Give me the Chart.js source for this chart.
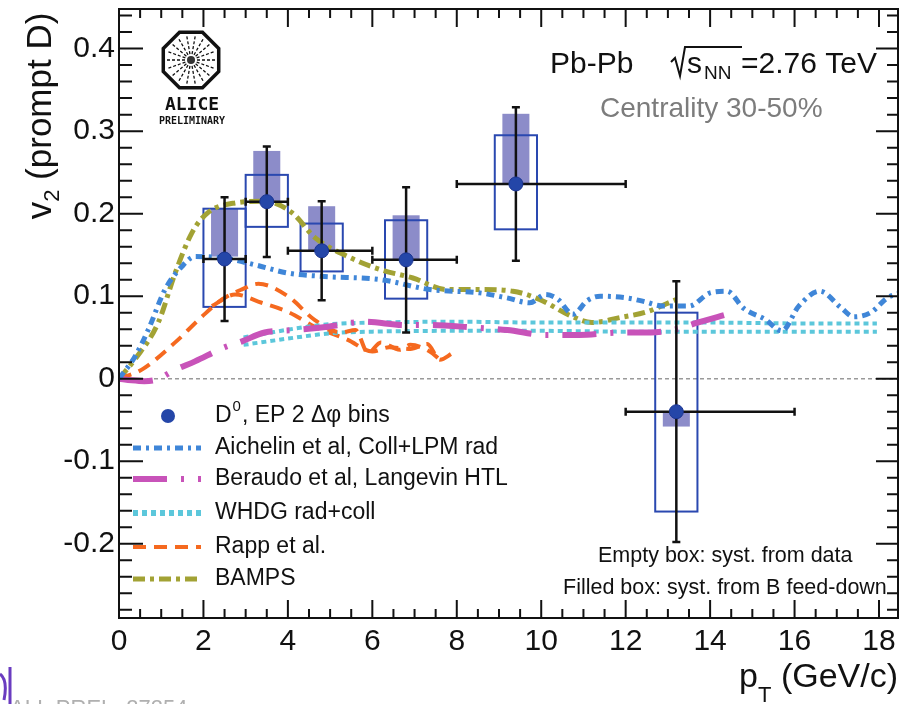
<!DOCTYPE html>
<html>
<head>
<meta charset="utf-8">
<script src="https://cdn.jsdelivr.net/npm/chart.js@4.4.1/dist/chart.umd.min.js"></script>
<style>
  html, body { margin: 0; padding: 0; background: #fff; }
  #wrap { width: 907px; height: 704px; }
</style>
</head>
<body>
<div id="wrap"><canvas id="v2Chart" width="907" height="704"></canvas></div>
<script>
// ---- 測定データ (D0, 30-50%) ----
const ptCenter = [2.5, 3.5, 4.8, 6.8, 9.4, 13.2];
const ptLow = [2, 3, 4, 6, 8, 12];
const ptHigh = [3, 4, 6, 8, 12, 16];
const v2Value = [0.145, 0.2145, 0.155, 0.144, 0.236, -0.040];
const v2StatErr = [0.075, 0.067, 0.060, 0.088, 0.093, 0.158];
const systDataLow = [0.087, 0.184, 0.130, 0.097, 0.181, -0.161];
const systDataHigh = [0.206, 0.247, 0.188, 0.192, 0.295, 0.080];
const feedDownLow = [0.148, 0.2145, 0.155, 0.144, 0.236, -0.058];
const feedDownHigh = [0.206, 0.276, 0.209, 0.198, 0.321, -0.040];

// ---- モデル曲線 ----
const aichX = [0, 0.38, 0.69, 1.09, 1.49, 1.8, 2.5, 3.22, 4.0, 4.8, 6.2, 7.36, 8.54, 9.18, 9.73, 10.1, 10.4, 10.75, 11.1, 11.4, 12.0, 12.4, 12.9, 13.5, 14.0, 14.4, 14.8, 15.3, 15.7, 16.1, 16.6, 17.1, 17.4, 17.8, 18.2, 18.5];
const aichY = [0, 0.027, 0.059, 0.108, 0.136, 0.148, 0.146, 0.138, 0.128, 0.124, 0.120, 0.108, 0.104, 0.098, 0.092, 0.102, 0.096, 0.078, 0.095, 0.100, 0.098, 0.094, 0.088, 0.088, 0.104, 0.106, 0.085, 0.072, 0.058, 0.088, 0.106, 0.086, 0.075, 0.080, 0.098, 0.104];

const beraudoX = [0, 0.3, 0.6, 0.9, 1.3, 1.8, 2.5, 2.9, 3.45, 4.17, 4.95, 5.8, 6.8, 7.4, 8.4, 9.2, 10.1, 10.9, 11.9, 12.6, 13.2, 13.7, 14.4];
const beraudoY = [0, -0.002, -0.003, -0.001, 0.010, 0.021, 0.038, 0.045, 0.056, 0.059, 0.063, 0.069, 0.065, 0.065, 0.062, 0.059, 0.053, 0.053, 0.056, 0.056, 0.060, 0.068, 0.078];

const whdgX = [2.95, 3.5, 4.2, 5.0, 6.0, 8.0, 10.0, 12.0, 14.0, 16.0, 17.95];
const whdgHiY = [0.050, 0.055, 0.061, 0.066, 0.068, 0.069, 0.068, 0.068, 0.068, 0.067, 0.067];
const whdgLoY = [0.041, 0.045, 0.050, 0.055, 0.057, 0.058, 0.058, 0.057, 0.057, 0.057, 0.057];

const rappHiX = [0, 0.54, 1.33, 1.96, 2.44, 2.9, 3.3, 4.0, 4.64, 5.27, 5.6, 5.9, 6.2, 6.65, 6.9, 7.36, 7.6];
const rappHiY = [0, 0.011, 0.044, 0.075, 0.096, 0.108, 0.115, 0.100, 0.071, 0.056, 0.059, 0.031, 0.044, 0.035, 0.041, 0.033, 0.023];
const rappLoX = [2.2, 2.75, 3.38, 4.0, 4.64, 5.42, 6.0, 6.4, 6.9, 7.3, 7.6, 7.9];
const rappLoY = [0.088, 0.102, 0.092, 0.081, 0.063, 0.047, 0.033, 0.038, 0.036, 0.042, 0.023, 0.031];

const bampsX = [0, 0.4, 0.93, 1.33, 1.73, 2.1, 2.75, 3.45, 4.1, 4.64, 5.42, 6.2, 6.96, 7.76, 8.54, 9.33, 9.96, 10.75, 11.2, 11.86, 12.5, 13.2];
const bampsY = [0, 0.025, 0.068, 0.128, 0.177, 0.201, 0.213, 0.215, 0.201, 0.171, 0.148, 0.132, 0.122, 0.108, 0.108, 0.106, 0.096, 0.075, 0.068, 0.074, 0.081, 0.096];

// ---- 軸 ----
const xTickStep = 2;
const yTickStep = 0.1;

const FONT = '"Liberation Sans", Arial, Helvetica, sans-serif';

function pts(xs, ys) {
    return xs.map((x, i) => ({ x: x, y: ys[i] }));
}

function modelLine(label, xs, ys, color, width, dash) {
    return {
        legendText: label,
        data: pts(xs, ys),
        showLine: true,
        borderColor: color,
        backgroundColor: color,
        borderWidth: width,
        borderDash: dash,
        pointRadius: 0,
        cubicInterpolationMode: 'monotone',
        fill: false
    };
}

// 箱 (系統誤差) とゼロ線、統計誤差棒
const boxPlugin = {
    id: 'boxes',
    beforeDatasetsDraw(chart) {
        const c = chart.ctx, xs = chart.scales.x, ys = chart.scales.y, a = chart.chartArea;
        c.save();
        c.beginPath();
        c.rect(a.left, a.top, a.right - a.left, a.bottom - a.top);
        c.clip();
        // ゼロ線
        c.strokeStyle = '#9a9a9a';
        c.lineWidth = 1.5;
        c.setLineDash([4, 3]);
        c.beginPath();
        c.moveTo(a.left, ys.getPixelForValue(0));
        c.lineTo(a.right, ys.getPixelForValue(0));
        c.stroke();
        c.setLineDash([]);
        ptCenter.forEach((x, i) => {
            // B feed-down (塗りつぶし)
            const fx0 = xs.getPixelForValue(x - 0.32), fx1 = xs.getPixelForValue(x + 0.32);
            const fy0 = ys.getPixelForValue(feedDownHigh[i]), fy1 = ys.getPixelForValue(feedDownLow[i]);
            c.fillStyle = '#8c8cc9';
            c.fillRect(fx0, fy0, fx1 - fx0, fy1 - fy0);
            // データ系統誤差 (空箱)
            const bx0 = xs.getPixelForValue(x - 0.5), bx1 = xs.getPixelForValue(x + 0.5);
            const by0 = ys.getPixelForValue(systDataHigh[i]), by1 = ys.getPixelForValue(systDataLow[i]);
            c.strokeStyle = '#2a48b0';
            c.lineWidth = 2;
            c.strokeRect(bx0, by0, bx1 - bx0, by1 - by0);
        });
        c.restore();
    },
    beforeDatasetDraw(chart, args) {
        if (args.index !== 0) return;
        const c = chart.ctx, xs = chart.scales.x, ys = chart.scales.y;
        c.save();
        c.strokeStyle = '#111';
        c.lineWidth = 2.5;
        ptCenter.forEach((x, i) => {
            const px = xs.getPixelForValue(x), py = ys.getPixelForValue(v2Value[i]);
            const pl = xs.getPixelForValue(ptLow[i]), ph = xs.getPixelForValue(ptHigh[i]);
            const yt = ys.getPixelForValue(v2Value[i] + v2StatErr[i]);
            const yb = ys.getPixelForValue(v2Value[i] - v2StatErr[i]);
            c.beginPath();
            c.moveTo(pl, py); c.lineTo(ph, py);
            c.moveTo(px, yt); c.lineTo(px, yb);
            c.moveTo(pl, py - 4); c.lineTo(pl, py + 4);
            c.moveTo(ph, py - 4); c.lineTo(ph, py + 4);
            c.moveTo(px - 4, yt); c.lineTo(px + 4, yt);
            c.moveTo(px - 4, yb); c.lineTo(px + 4, yb);
            c.stroke();
        });
        c.restore();
    }
};

// 枠と内向きの目盛り、文字
const framePlugin = {
    id: 'frame',
    afterDraw(chart) {
        const c = chart.ctx, xs = chart.scales.x, ys = chart.scales.y, a = chart.chartArea;
        c.save();
        c.strokeStyle = '#111';
        c.lineWidth = 2;
        c.strokeRect(a.left, a.top, a.right - a.left, a.bottom - a.top);
        c.beginPath();
        for (let k = 0; k * 0.5 <= xs.max + 1e-9; k++) {
            const px = xs.getPixelForValue(k * 0.5);
            const len = (k % 4 === 0) ? 18 : 9;
            c.moveTo(px, a.bottom); c.lineTo(px, a.bottom - len);
            c.moveTo(px, a.top); c.lineTo(px, a.top + len);
        }
        for (let k = -14; k * 0.02 <= ys.max + 1e-9; k++) {
            const py = ys.getPixelForValue(k * 0.02);
            const major = (k % 5 === 0);
            c.moveTo(a.left, py); c.lineTo(a.left + (major ? 24 : 13), py);
            c.moveTo(a.right, py); c.lineTo(a.right - (major ? 22 : 11), py);
        }
        c.stroke();

        // 凡例
        const rows = [416, 448, 479, 513, 547, 579];
        let r = 0;
        c.textBaseline = 'middle';
        c.textAlign = 'left';
        chart.data.datasets.forEach(ds => {
            if (!ds.legendText) return;
            const y = rows[r++];
            if (ds.showLine) {
                c.strokeStyle = ds.borderColor;
                c.lineWidth = ds.legendWidth || ds.borderWidth;
                c.setLineDash(ds.borderDash || []);
                c.beginPath();
                c.moveTo(133, y); c.lineTo(201, y);
                c.stroke();
                c.setLineDash([]);
                c.fillStyle = '#111';
                c.font = '23px ' + FONT;
                c.fillText(ds.legendText, 215, y);
            } else {
                c.fillStyle = ds.backgroundColor;
                c.beginPath();
                c.arc(168, y, 7, 0, Math.PI * 2);
                c.fill();
                c.fillStyle = '#111';
                c.font = '23px ' + FONT;
                c.fillText('D', 215, y);
                let w = c.measureText('D').width;
                c.font = '15px ' + FONT;
                c.fillText('0', 215 + w + 1, y - 9);
                w += c.measureText('0').width + 2;
                c.font = '23px ' + FONT;
                c.fillText(', EP 2 \u0394\u03c6 bins', 215 + w, y);
            }
        });

        // 右上の文字
        c.textBaseline = 'alphabetic';
        c.fillStyle = '#111';
        c.font = '30px ' + FONT;
        c.fillText('Pb-Pb', 550, 73);
        c.strokeStyle = '#111';
        c.lineWidth = 2;
        c.beginPath();
        c.moveTo(671, 62); c.lineTo(675, 58); c.lineTo(680, 76); c.lineTo(685, 47); c.lineTo(742, 47);
        c.stroke();
        c.fillText('s', 687, 73);
        c.font = '19px ' + FONT;
        c.fillText('NN', 704, 79);
        c.font = '30px ' + FONT;
        c.fillText('=2.76 TeV', 741, 73);
        c.fillStyle = '#7c7c7c';
        c.font = '28px ' + FONT;
        c.fillText('Centrality 30-50%', 600, 117);

        c.fillStyle = '#111';
        c.font = '21.5px ' + FONT;
        c.textBaseline = 'middle';
        c.fillText('Empty box: syst. from data', 598, 556);
        c.fillText('Filled box: syst. from B feed-down', 563, 588);

        // 軸タイトル
        c.textBaseline = 'alphabetic';
        c.font = '34px ' + FONT;
        const wp = c.measureText('p').width;
        c.font = '22px ' + FONT;
        const wt = c.measureText('T').width;
        c.font = '34px ' + FONT;
        const wr = c.measureText(' (GeV/c)').width;
        let x0 = 898 - wp - wt - wr;
        c.fillText('p', x0, 687);
        c.font = '22px ' + FONT;
        c.fillText('T', x0 + wp, 702);
        c.font = '34px ' + FONT;
        c.fillText(' (GeV/c)', x0 + wp + wt, 687);

        c.save();
        c.translate(51, 116);
        c.rotate(-Math.PI / 2);
        c.font = '35px ' + FONT;
        const wv = c.measureText('v').width;
        const wrest = c.measureText(' (prompt D)').width;
        c.font = '22px ' + FONT;
        const w2 = c.measureText('2').width;
        let s = -(wv + w2 + wrest) / 2;
        c.font = '35px ' + FONT;
        c.fillText('v', s, 0);
        c.font = '22px ' + FONT;
        c.fillText('2', s + wv, 8);
        c.font = '35px ' + FONT;
        c.fillText(' (prompt D)', s + wv + w2, 0);
        c.restore();

        // ALICE ロゴ
        const cx = 191, cy = 60, R = 30;
        c.strokeStyle = '#111';
        c.lineWidth = 3.5;
        c.beginPath();
        for (let k = 0; k < 8; k++) {
            const ang = Math.PI / 8 + k * Math.PI / 4;
            const px = cx + R * Math.cos(ang), py = cy + R * Math.sin(ang);
            if (k === 0) c.moveTo(px, py); else c.lineTo(px, py);
        }
        c.closePath();
        c.stroke();
        c.lineWidth = 1.3;
        c.setLineDash([3, 2]);
        c.beginPath();
        for (let k = 0; k < 18; k++) {
            const ang = k * Math.PI / 9;
            c.moveTo(cx + 6 * Math.cos(ang), cy + 6 * Math.sin(ang));
            c.lineTo(cx + 24 * Math.cos(ang), cy + 24 * Math.sin(ang));
        }
        c.stroke();
        c.setLineDash([]);
        c.fillStyle = '#333';
        c.beginPath();
        c.arc(cx, cy, 4, 0, Math.PI * 2);
        c.fill();
        c.fillStyle = '#111';
        c.textAlign = 'center';
        c.font = 'bold 18px "DejaVu Sans Mono", monospace';
        c.fillText('ALICE', cx + 1, 110);
        c.font = 'bold 10px "DejaVu Sans Mono", monospace';
        c.fillText('PRELIMINARY', cx + 1, 124);

        // 左下の切れた文字
        c.textAlign = 'left';
        c.fillStyle = '#b0b0b0';
        c.font = '22px ' + FONT;
        c.fillText('ALI\u2212PREL\u221227254', 10, 715);
        c.strokeStyle = '#6a3cc0';
        c.lineWidth = 3;
        c.beginPath();
        c.moveTo(10, 667); c.lineTo(10, 704);
        c.moveTo(0, 674);
        c.quadraticCurveTo(8, 680, 4, 700);
        c.stroke();
        c.restore();
    }
};

const ctx = document.getElementById('v2Chart').getContext('2d');

const d0Set = {
    legendText: 'D0',
    data: pts(ptCenter, v2Value),
    showLine: false,
    pointRadius: 7,
    pointHoverRadius: 7,
    backgroundColor: '#2446a8',
    borderColor: '#1b3592',
    borderWidth: 1
};

const whdgLo = modelLine(null, whdgX, whdgLoY, '#5cc7db', 4, [5, 4]);
const whdgHi = modelLine('WHDG rad+coll', whdgX, whdgHiY, '#5cc7db', 4, [5, 4]);
whdgHi.legendWidth = 6;
const rappLo = modelLine(null, rappLoX, rappLoY, '#f5691f', 4, [13, 8]);

const v2Chart = new Chart(ctx, {
    type: 'scatter',
    data: {
        datasets: [
            d0Set,
            modelLine('Aichelin et al, Coll+LPM rad', aichX, aichY, '#3f86d8', 5, [8, 5, 3, 5]),
            modelLine('Beraudo et al, Langevin HTL', beraudoX, beraudoY, '#c853b9', 6, [34, 14, 3, 14]),
            whdgHi,
            modelLine('Rapp et al.', rappHiX, rappHiY, '#f5691f', 4, [13, 8]),
            modelLine('BAMPS', bampsX, bampsY, '#a2a234', 5, [12, 5, 4, 5]),
            whdgLo,
            rappLo
        ]
    },
    options: {
        responsive: false,
        animation: false,
        devicePixelRatio: 1,
        layout: { padding: { top: 9, right: 9, left: 0, bottom: 0 } },
        plugins: {
            legend: { display: false },
            tooltip: { enabled: false }
        },
        scales: {
            x: {
                type: 'linear',
                min: 0,
                max: 18.45,
                grid: { display: false, drawTicks: false },
                border: { display: false },
                ticks: {
                    stepSize: xTickStep,
                    includeBounds: false,
                    autoSkip: false,
                    maxRotation: 0,
                    padding: 6,
                    color: '#111',
                    font: { family: FONT, size: 30 }
                },
                afterFit(s) { s.height = 86; s.paddingLeft = 0; s.paddingRight = 0; }
            },
            y: {
                type: 'linear',
                min: -0.29,
                max: 0.448,
                grid: { display: false, drawTicks: false },
                border: { display: false },
                ticks: {
                    stepSize: yTickStep,
                    includeBounds: false,
                    autoSkip: false,
                    padding: 4,
                    color: '#111',
                    font: { family: FONT, size: 30 },
                    callback: v => Math.abs(v) < 1e-9 ? '0' : v.toFixed(1)
                },
                afterFit(s) { s.width = 119; s.paddingTop = 0; s.paddingBottom = 0; }
            }
        }
    },
    plugins: [boxPlugin, framePlugin]
});
</script>
</body>
</html>
